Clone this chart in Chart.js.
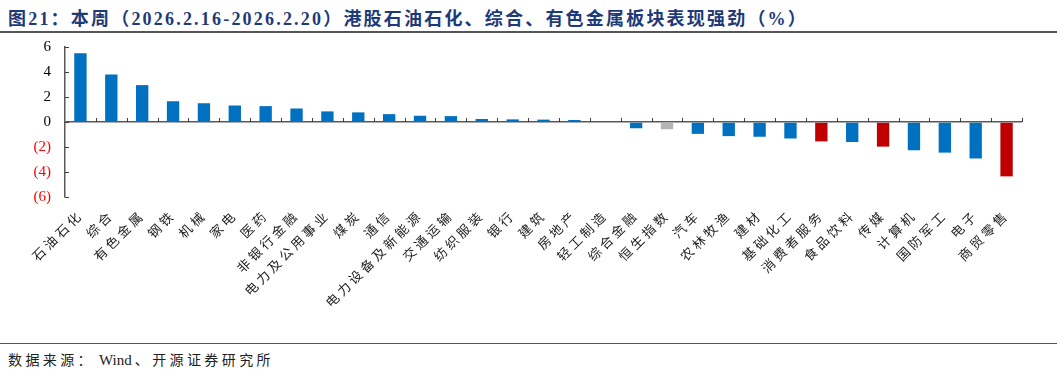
<!DOCTYPE html>
<html>
<head>
<meta charset="utf-8">
<script src="https://cdn.jsdelivr.net/npm/chart.js@4"></script>
<style>
  body { margin: 0; background: #fff; width: 1057px; height: 374px; position: relative; overflow: hidden; }
  #title { position: absolute; left: 8px; top: 4px; font: bold 18px "Liberation Serif", "Noto Sans CJK SC"; color: #1F3A78; white-space: nowrap; letter-spacing: 2.2px; }
  #topline { position: absolute; left: 0; top: 31px; width: 1057px; border-top: 2px solid #555; }
  #wrap { position: absolute; left: 0; top: 24px; width: 1057px; height: 316px; }
  #botline { position: absolute; left: 0; top: 343px; width: 1057px; border-top: 1.5px solid #555; }
  #source { position: absolute; left: 8px; top: 349px; font: 14px "Liberation Serif", "Noto Sans CJK SC"; color: #222; white-space: nowrap; letter-spacing: 3.4px; }
  #source span { letter-spacing: 0; font-size: 15px; margin: 0 3px 0 4px; }
</style>
</head>
<body>
<div id="title">图21：本周（2026.2.16-2026.2.20）港股石油石化、综合、有色金属板块表现强劲（%）</div>
<div id="topline"></div>
<div id="wrap"><canvas id="myChart"></canvas></div>
<div id="botline"></div>
<div id="source">数据来源：<span>Wind</span>、开源证券研究所</div>
<script>
var sectors = ["石油石化", "综合", "有色金属", "钢铁", "机械", "家电", "医药", "非银行金融",
  "电力及公用事业", "煤炭", "通信", "电力设备及新能源", "交通运输", "纺织服装", "银行", "建筑",
  "房地产", "轻工制造", "综合金融", "恒生指数", "汽车", "农林牧渔", "建材", "基础化工",
  "消费者服务", "食品饮料", "传媒", "计算机", "国防军工", "电子", "商贸零售"];
var weekChange = [5.5, 3.8, 2.95, 1.66, 1.5, 1.32, 1.27, 1.08,
  0.85, 0.77, 0.63, 0.5, 0.47, 0.24, 0.21, 0.19,
  0.16, 0.06, -0.5, -0.58, -0.95, -1.13, -1.18, -1.32,
  -1.55, -1.6, -1.97, -2.26, -2.45, -2.92, -4.35];
var yTicks = [-6, -4, -2, 0, 2, 4, 6];
var redSectors = ["消费者服务", "传媒", "商贸零售"];
var benchmark = "恒生指数";

var fills = [];
sectors.forEach(function (s) {
  if (s === benchmark) fills.push("#B4B4B4");
  else if (redSectors.indexOf(s) >= 0) fills.push("#C00000");
  else fills.push("#0070C0");
});

// wider character spacing for the x labels (drawn after the bars, z: 1)
var labelSpacing = {
  id: "labelSpacing",
  afterDatasetsDraw: function (chart) { chart.ctx.letterSpacing = "3.3px"; },
  afterDraw: function (chart) { chart.ctx.letterSpacing = "0px"; }
};

// small tick marks: on y axis pointing in, on zero line pointing up
var axisMarks = {
  id: "axisMarks",
  afterDraw: function (chart) {
    var ctx = chart.ctx, x = chart.scales.x, y = chart.scales.y;
    var area = chart.chartArea;
    ctx.save();
    ctx.strokeStyle = "#404040";
    ctx.lineWidth = 1;
    yTicks.forEach(function (v) {
      var py = Math.round(y.getPixelForValue(v)) + 0.5;
      ctx.beginPath();
      ctx.moveTo(area.left, py);
      ctx.lineTo(area.left + 4, py);
      ctx.stroke();
    });
    var y0 = y.getPixelForValue(0);
    var half = (x.getPixelForValue(1) - x.getPixelForValue(0)) / 2;
    for (var i = 1; i <= sectors.length; i++) {
      var px = Math.round(x.getPixelForValue(i) - half) + 0.5;
      ctx.beginPath();
      ctx.moveTo(px, y0);
      ctx.lineTo(px, y0 - 4);
      ctx.stroke();
    }
    ctx.restore();
  }
};

var chart = new Chart(document.getElementById("myChart").getContext("2d"), {
  type: "bar",
  data: {
    labels: sectors,
    datasets: [{
      data: weekChange,
      backgroundColor: fills,
      borderWidth: 0,
      barPercentage: 0.4,
      categoryPercentage: 1
    }]
  },
  options: {
    responsive: true,
    maintainAspectRatio: false,
    animation: false,
    layout: { padding: { top: 4, right: 35, left: 0, bottom: 0 } },
    plugins: { legend: { display: false }, tooltip: { enabled: false } },
    scales: {
      x: {
        grid: { display: false },
        border: { display: false },
        ticks: {
          autoSkip: false,
          maxRotation: 45,
          minRotation: 45,
          padding: 2,
          z: 1,
          color: "#222",
          font: { family: "Noto Sans CJK SC", size: 13 }
        },
        afterFit: function (s) { s.height = 143; }
      },
      y: {
        min: -6,
        max: 6,
        ticks: {
          stepSize: 2,
          padding: 14,
          font: { family: "Liberation Serif", size: 15 },
          color: function (c) { return c.tick.value < 0 ? "#FF0000" : "#000"; },
          callback: function (v) { return v < 0 ? "(" + (-v) + ")" : v; }
        },
        grid: {
          drawTicks: false,
          lineWidth: 1.5,
          color: function (c) { return c.tick.value === 0 ? "#595959" : "rgba(0,0,0,0)"; }
        },
        border: { color: "#595959", width: 1.5 },
        afterFit: function (s) { s.width = 65; }
      }
    }
  },
  plugins: [labelSpacing, axisMarks]
});
</script>
</body>
</html>
